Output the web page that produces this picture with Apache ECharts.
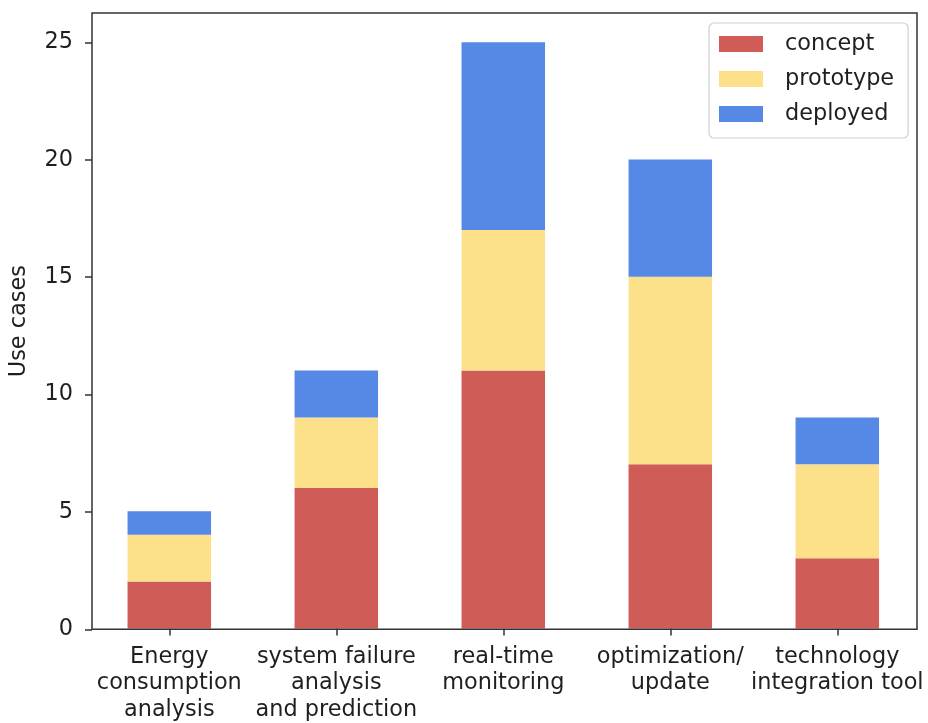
<!DOCTYPE html>
<html>
<head>
<meta charset="utf-8">
<script src="https://cdn.jsdelivr.net/npm/echarts@6/dist/echarts.min.js"></script>
<style>html,body{margin:0;padding:0;background:#fff}#c{width:928px;height:723px}</style>
</head>
<body>
<div id="c"></div>
<script>
const categories = ["Energy\nconsumption\nanalysis", "system failure\nanalysis\nand prediction", "real-time\nmonitoring", "optimization/\nupdate", "technology\nintegration tool"];
const concept = [2, 6, 11, 7, 3];
const prototype = [2, 3, 6, 8, 4];
const deployed = [1, 2, 8, 5, 2];
const yTicks = [0, 5, 10, 15, 20, 25];

const FONT = "DejaVu Sans";
const TXT = '#1f1f1f';
const chart = echarts.init(document.getElementById('c'), null, {renderer: 'canvas'});
const yMin = 0, yMax = 26.25;
chart.setOption({
  animation: false,
  backgroundColor: '#fff',
  textStyle: {fontFamily: FONT},
  grid: [
    {left: 85.8, right: 7.2, top: 13, bottom: 93.7, show: false},
    {left: 90, right: 11, top: 13, bottom: 93.7, show: true, borderColor: '#333', borderWidth: 1.5, backgroundColor: 'transparent', z: 10}
  ],
  xAxis: [
    {type: 'category', gridIndex: 0, data: categories,
     axisLine: {show: false},
     axisTick: {show: true, alignWithLabel: true, length: 7, lineStyle: {color: '#333', width: 1.5}},
     axisLabel: {color: TXT, fontSize: 22.4, fontFamily: FONT, lineHeight: 26.5, margin: 15, interval: 0}},
    {type: 'value', gridIndex: 1, show: false, min: 0, max: 1}
  ],
  yAxis: [
    {type: 'value', gridIndex: 0, show: false, min: yMin, max: yMax},
    {type: 'value', gridIndex: 1, min: yMin, max: yMax, interval: 5,
     name: 'Use cases', nameLocation: 'middle', nameGap: 62,
     nameTextStyle: {color: TXT, fontSize: 22.4, fontFamily: FONT},
     axisLine: {show: false},
     splitLine: {show: false},
     axisTick: {show: true, length: 7, lineStyle: {color: '#333', width: 1.5}, customValues: yTicks},
     axisLabel: {color: TXT, fontSize: 22.4, fontFamily: FONT, margin: 19, customValues: yTicks}}
  ],
  legend: {
    left: 709, top: 23, orient: 'vertical',
    padding: [10, 14, 13, 10],
    itemWidth: 44, itemHeight: 16, itemGap: 13,
    borderColor: '#d0d0d0', borderWidth: 1.2, borderRadius: 5,
    backgroundColor: 'rgba(255,255,255,0.8)',
    textStyle: {fontSize: 22.4, fontFamily: FONT, color: TXT, lineHeight: 22, padding: [0, 0, 0, 17]},
    icon: 'rect',
    data: ['concept', 'prototype', 'deployed'],
    z: 20
  },
  series: [
    {name: 'concept', type: 'bar', stack: 'a', data: concept, barWidth: 83.5, itemStyle: {color: '#CF5C56'}},
    {name: 'prototype', type: 'bar', stack: 'a', data: prototype, barWidth: 83.5, itemStyle: {color: '#FDE18A'}},
    {name: 'deployed', type: 'bar', stack: 'a', data: deployed, barWidth: 83.5, itemStyle: {color: '#5689E5'}}
  ]
});
</script>
</body>
</html>
